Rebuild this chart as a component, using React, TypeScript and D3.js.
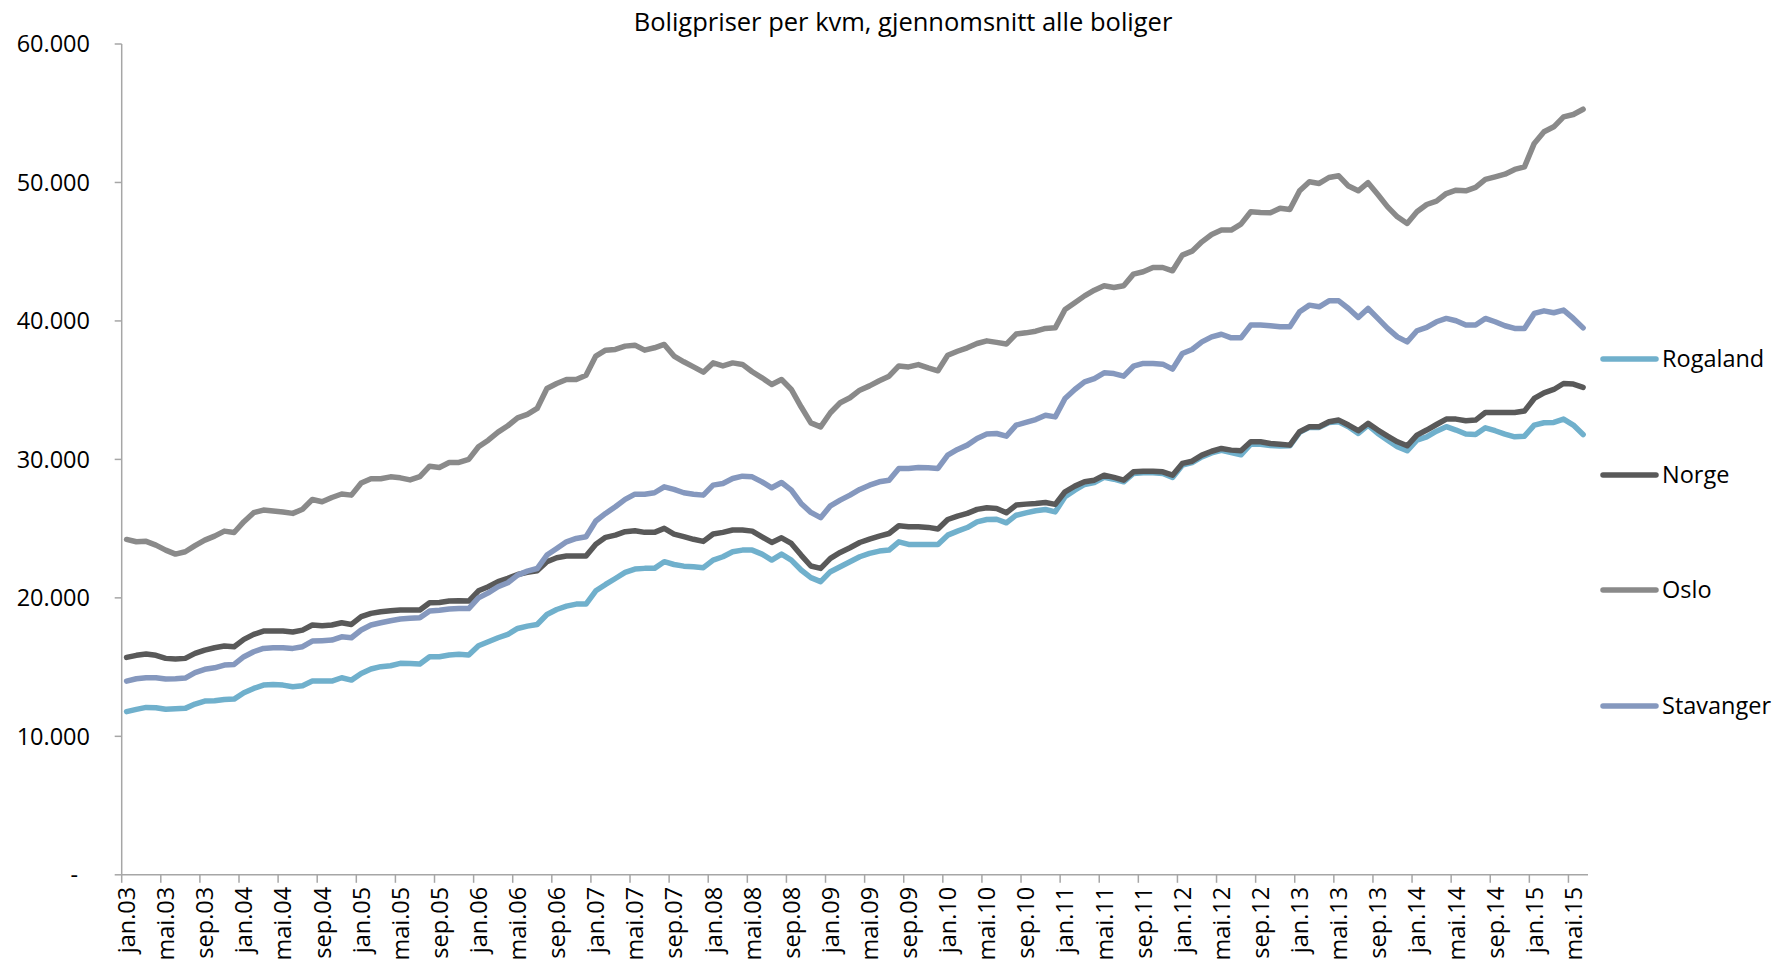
import React from "react";
import * as d3 from "d3";

// monthly average price per m2 (NOK), jan.03 - jun.15
const monthNames = ["jan", "feb", "mar", "apr", "mai", "jun", "jul", "aug", "sep", "okt", "nov", "des"];
const categories = d3.range(150).map(
  (i) => `${monthNames[i % 12]}.${String(3 + Math.floor(i / 12)).padStart(2, "0")}`
);

const rogaland = [
  11780, 11950, 12090, 12070, 11950, 12000, 12020, 12330, 12550, 12570, 12660, 12690, 13150, 13460, 13700, 13750, 13700, 13580, 13650, 13990, 13990, 13990, 14230, 14060, 14540, 14860, 15030, 15100, 15270, 15260,
  15220, 15750, 15750, 15870, 15920, 15870, 16540, 16830, 17120, 17360, 17790, 17960, 18080, 18800, 19160, 19400, 19550, 19550, 20510, 20970, 21400, 21840, 22080, 22130, 22130, 22610, 22410, 22290, 22240, 22180,
  22730, 22970, 23330, 23450, 23450, 23160, 22730, 23160, 22730, 22010, 21460, 21170, 21890, 22250, 22610, 22970, 23210, 23380, 23450, 24050, 23860, 23860, 23860, 23860, 24530, 24820, 25080, 25490, 25660, 25680,
  25420, 25970, 26140, 26290, 26380, 26210, 27300, 27780, 28190, 28330, 28700, 28570, 28380, 28980, 29030, 29030, 28980, 28690, 29580, 29770, 30180, 30470, 30660, 30500, 30330, 31100, 31100, 31000, 30970, 30980,
  31950, 32310, 32310, 32670, 32720, 32360, 31870, 32480, 31870, 31390, 30910, 30620, 31390, 31630, 32040, 32360, 32120, 31830, 31800, 32280, 32070, 31830, 31630, 31680, 32480, 32650, 32670, 32910, 32480, 31800,
];

const norge = [
  15700, 15850, 15940, 15850, 15630, 15580, 15630, 15990, 16230, 16400, 16520, 16470, 17000, 17360, 17600, 17600, 17600, 17530, 17670, 18040, 17990, 18040, 18200, 18080, 18640, 18880, 19000, 19070, 19120, 19120,
  19120, 19650, 19670, 19770, 19790, 19770, 20510, 20800, 21170, 21410, 21690, 21840, 21960, 22610, 22900, 23020, 23020, 23020, 23880, 24370, 24530, 24780, 24850, 24730, 24730, 25020, 24610, 24420, 24230, 24080,
  24610, 24730, 24900, 24900, 24820, 24410, 24000, 24340, 23930, 23090, 22300, 22130, 22850, 23280, 23620, 24000, 24240, 24460, 24650, 25210, 25140, 25140, 25090, 24970, 25660, 25910, 26100, 26390, 26510, 26460,
  26150, 26700, 26770, 26820, 26890, 26750, 27660, 28070, 28380, 28500, 28860, 28700, 28500, 29100, 29150, 29150, 29100, 28860, 29710, 29870, 30310, 30590, 30790, 30670, 30620, 31270, 31270, 31150, 31100, 31030,
  32000, 32360, 32360, 32720, 32840, 32480, 32070, 32600, 32120, 31680, 31270, 30980, 31750, 32120, 32520, 32910, 32910, 32790, 32840, 33390, 33390, 33390, 33390, 33490, 34400, 34810, 35050, 35480, 35440, 35200,
];

const oslo = [
  24220, 24050, 24080, 23810, 23450, 23160, 23330, 23770, 24170, 24460, 24820, 24720, 25500, 26150, 26340, 26270, 26200, 26100, 26400, 27100, 26940, 27250, 27500, 27420, 28300, 28600, 28600, 28740, 28670, 28520,
  28750, 29510, 29420, 29780, 29780, 30000, 30910, 31390, 31970, 32430, 33000, 33250, 33680, 35120, 35480, 35770, 35770, 36080, 37460, 37890, 37940, 38180, 38250, 37890, 38060, 38300, 37460, 37050, 36680, 36300,
  36970, 36750, 36970, 36860, 36330, 35890, 35410, 35770, 35050, 33800, 32640, 32350, 33370, 34090, 34450, 35000, 35310, 35680, 36010, 36750, 36680, 36850, 36610, 36400, 37520, 37810, 38060, 38370, 38560, 38450,
  38330, 39050, 39140, 39260, 39460, 39500, 40830, 41310, 41810, 42220, 42540, 42420, 42540, 43380, 43550, 43860, 43860, 43620, 44750, 45040, 45710, 46240, 46560, 46560, 46990, 47880, 47830, 47810, 48140, 48050,
  49400, 50050, 49930, 50360, 50480, 49740, 49400, 49980, 49130, 48240, 47520, 47040, 47880, 48410, 48650, 49200, 49440, 49400, 49640, 50220, 50410, 50600, 50940, 51130, 52820, 53660, 54020, 54740, 54910, 55290,
];

const stavanger = [
  13990, 14160, 14230, 14230, 14140, 14160, 14210, 14600, 14840, 14950, 15150, 15190, 15750, 16110, 16350, 16400, 16400, 16350, 16470, 16880, 16910, 16950, 17190, 17120, 17680, 18040, 18200, 18350, 18470, 18520,
  18560, 19060, 19110, 19190, 19230, 19230, 20000, 20360, 20800, 21090, 21640, 21930, 22120, 23090, 23570, 24050, 24290, 24410, 25550, 26100, 26580, 27110, 27490, 27490, 27590, 28020, 27830, 27590, 27490, 27420,
  28140, 28260, 28620, 28790, 28740, 28380, 27950, 28330, 27780, 26820, 26170, 25790, 26650, 27060, 27420, 27830, 28140, 28380, 28500, 29350, 29350, 29420, 29390, 29350, 30310, 30720, 31030, 31510, 31830, 31870,
  31680, 32470, 32670, 32880, 33190, 33070, 34400, 35050, 35600, 35840, 36250, 36200, 36010, 36730, 36930, 36930, 36880, 36520, 37650, 37940, 38490, 38850, 39040, 38780, 38780, 39700, 39700, 39650, 39580, 39580,
  40660, 41140, 41020, 41450, 41450, 40900, 40250, 40900, 40180, 39460, 38850, 38490, 39290, 39530, 39940, 40180, 40010, 39700, 39700, 40180, 39940, 39650, 39460, 39460, 40540, 40730, 40590, 40780, 40180, 39500,
];

const yTicks = [0, 10000, 20000, 30000, 40000, 50000, 60000];

const series = [
  { name: "Rogaland", values: rogaland, color: "#70b0cc" },
  { name: "Norge", values: norge, color: "#595959" },
  { name: "Oslo", values: oslo, color: "#8a8a8a" },
  { name: "Stavanger", values: stavanger, color: "#8598be" },
];

const title = "Boligpriser per kvm, gjennomsnitt alle boliger";

const W = 1772;
const H = 965;
const margin = { left: 121.7, right: 1588, top: 44, bottom: 874.8 };
const font = "'Open Sans', 'Liberation Sans', sans-serif";
const axisColor = "#a6a6a6";

const nok = d3.formatLocale({ decimal: ",", thousands: ".", grouping: [3], currency: ["", ""] }).format(",.0f");

export default function App() {
  const x = d3.scaleBand<string>().domain(categories).range([margin.left, margin.right]).padding(0);
  const y = d3.scaleLinear().domain([0, 60000]).range([margin.bottom, margin.top]);
  const bw = x.bandwidth();
  const cx = (i: number) => (x(categories[i]) as number) + bw / 2;

  const line = d3
    .line<number>()
    .x((_, i) => cx(i))
    .y((d) => y(d));

  const tickIdx = d3.range(0, categories.length, 4);
  const legendY = [359, 475, 590, 706];

  return (
    <svg
      width={W}
      height={H}
      style={{ position: "absolute", left: 0, top: 0, background: "#fff", display: "block" }}
      fontFamily={font}
    >
      <text x={903} y={31} textAnchor="middle" fontSize={25.5} fill="#000">
        {title}
      </text>

      {/* y axis */}
      <line x1={margin.left} x2={margin.left} y1={margin.top} y2={margin.bottom} stroke={axisColor} strokeWidth={1.5} />
      {yTicks.map((t) => (
        <g key={t}>
          <line x1={margin.left - 7} x2={margin.left} y1={y(t)} y2={y(t)} stroke={axisColor} strokeWidth={1.5} />
          <text
            x={t === 0 ? 78 : 90}
            y={y(t)}
            dy="0.36em"
            textAnchor="end"
            fontSize={23.5}
            fill="#000"
          >
            {t === 0 ? "-" : nok(t)}
          </text>
        </g>
      ))}

      {/* x axis */}
      <line x1={margin.left} x2={margin.right} y1={margin.bottom} y2={margin.bottom} stroke={axisColor} strokeWidth={1.5} />
      {tickIdx.map((i) => (
        <line
          key={"t" + i}
          x1={x(categories[i]) as number}
          x2={x(categories[i]) as number}
          y1={margin.bottom}
          y2={margin.bottom + 8}
          stroke={axisColor}
          strokeWidth={1.5}
        />
      ))}
      {tickIdx.map((i) => (
        <text
          key={"l" + i}
          transform={`translate(${cx(i)},${margin.bottom + 12}) rotate(-90)`}
          dy="0.36em"
          textAnchor="end"
          fontSize={23.5}
          fill="#000"
        >
          {categories[i]}
        </text>
      ))}

      {/* series */}
      {series.map((s) => (
        <path
          key={s.name}
          d={line(s.values) || ""}
          fill="none"
          stroke={s.color}
          strokeWidth={5.5}
          strokeLinejoin="round"
          strokeLinecap="round"
        />
      ))}

      {/* legend */}
      {series.map((s, k) => (
        <g key={"lg" + s.name}>
          <line x1={1603} x2={1656} y1={legendY[k]} y2={legendY[k]} stroke={s.color} strokeWidth={5.5} strokeLinecap="round" />
          <text x={1662} y={legendY[k]} dy="0.36em" fontSize={23.5} fill="#000">
            {s.name}
          </text>
        </g>
      ))}
    </svg>
  );
}
